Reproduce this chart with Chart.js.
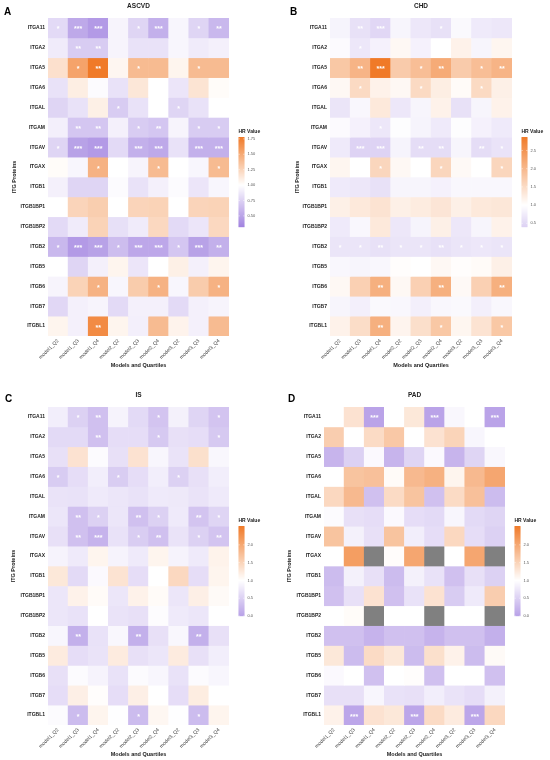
<!DOCTYPE html>
<html>
<head>
<meta charset="utf-8">
<script src="https://cdn.jsdelivr.net/npm/chart.js@4.4.1/dist/chart.umd.min.js"></script>
<style>
  html, body { margin: 0; padding: 0; background: #fff; }
  #wrap { position: relative; width: 550px; height: 760px; overflow: hidden; font-family: "Liberation Sans", Arial, sans-serif; }
  .panel { position: absolute; width: 275px; height: 371px; }
  .tag { position: absolute; font-weight: bold; font-size: 10px; line-height: 1; color: #000; }
</style>
</head>
<body>
<div id="wrap">
  <div class="panel" style="left:0;top:0"><canvas id="chartA"></canvas></div>
  <div class="panel" style="left:275px;top:0"><canvas id="chartB"></canvas></div>
  <div class="panel" style="left:0;top:389px"><canvas id="chartC"></canvas></div>
  <div class="panel" style="left:275px;top:389px"><canvas id="chartD"></canvas></div>
  <div class="tag" style="left:4px;top:7px">A</div>
  <div class="tag" style="left:290px;top:6.5px">B</div>
  <div class="tag" style="left:5px;top:394px">C</div>
  <div class="tag" style="left:288px;top:394px">D</div>
</div>
<script>
const proteins = ["ITGA11","ITGA2","ITGA5","ITGA6","ITGAL","ITGAM","ITGAV","ITGAX","ITGB1","ITGB1BP1","ITGB1BP2","ITGB2","ITGB5","ITGB6","ITGB7","ITGBL1"];
const quartiles = ["model1_Q2","model1_Q3","model1_Q4","model2_Q2","model2_Q3","model2_Q4","model3_Q2","model3_Q3","model3_Q4"];

// HR values, one row per protein (ASCVD)
const hrA = [
  [0.80,0.53,0.45,0.94,0.77,0.57,0.95,0.77,0.61],
  [0.89,0.72,0.72,0.94,0.84,0.84,0.95,0.89,0.92],
  [1.18,1.54,1.78,1.05,1.40,1.40,1.06,1.40,1.40],
  [0.84,1.10,0.98,0.84,1.14,1.00,0.86,1.16,1.02],
  [0.77,0.84,1.09,0.72,0.84,1.00,0.77,0.84,1.00],
  [0.91,0.69,0.69,0.92,0.72,0.69,0.94,0.72,0.72],
  [0.77,0.49,0.45,0.80,0.57,0.53,0.84,0.57,0.57],
  [1.02,0.95,1.45,1.00,0.94,1.40,1.00,0.95,1.40],
  [0.92,0.77,0.77,0.98,0.84,0.92,0.98,0.86,0.95],
  [1.00,1.25,1.29,1.00,1.25,1.26,1.00,1.25,1.26],
  [0.80,0.89,1.26,0.83,0.89,1.23,0.80,0.86,1.23],
  [0.61,0.45,0.49,0.64,0.52,0.52,0.69,0.49,0.57],
  [1.00,0.77,0.92,1.06,0.86,1.00,1.09,0.92,1.06],
  [0.94,1.26,1.45,0.95,1.30,1.45,0.95,1.30,1.45],
  [0.78,0.92,0.94,0.80,0.92,0.92,0.80,0.92,0.94],
  [1.06,0.92,1.68,1.06,0.91,1.40,1.07,0.92,1.40]
];
// CHD
const hrB = [
  [0.85,0.61,0.48,0.87,0.69,0.61,0.92,0.73,0.69],
  [0.94,0.69,0.82,1.10,0.82,1.00,1.18,0.87,1.13],
  [1.78,2.05,2.87,1.73,1.91,2.18,1.73,1.91,2.05],
  [1.10,1.52,1.18,1.10,1.52,1.24,1.06,1.52,1.21],
  [0.66,0.90,1.31,0.69,0.87,1.18,0.61,0.87,1.18],
  [0.94,0.82,0.69,0.97,0.85,0.73,0.97,0.82,0.73],
  [0.73,0.43,0.43,0.85,0.55,0.55,0.87,0.55,0.64],
  [1.13,1.00,1.57,1.10,1.00,1.57,1.08,1.00,1.57],
  [0.73,0.69,0.61,0.87,0.87,0.82,0.90,0.90,0.90],
  [1.21,1.31,1.39,1.21,1.27,1.36,1.21,1.31,1.34],
  [0.73,0.90,1.31,0.69,0.85,1.21,0.69,0.87,1.18],
  [0.66,0.66,0.61,0.66,0.66,0.61,0.66,0.69,0.66],
  [0.90,0.87,0.90,1.03,1.00,1.10,1.03,1.06,1.21],
  [1.10,1.66,2.11,1.10,1.66,2.11,1.08,1.66,2.11],
  [0.87,0.79,0.92,0.90,0.79,0.90,0.92,0.79,0.90],
  [1.18,1.48,2.11,1.15,1.45,1.78,1.13,1.39,1.78]
];
// IS
const hrC = [
  [0.82,0.51,0.33,0.87,0.60,0.37,0.85,0.55,0.37],
  [0.60,0.60,0.33,0.64,0.64,0.42,0.67,0.64,0.42],
  [0.67,1.33,0.96,0.67,1.33,0.90,0.70,1.36,0.91],
  [0.45,0.64,0.82,0.46,0.64,0.82,0.51,0.67,0.82],
  [0.70,0.69,0.78,0.73,0.69,0.78,0.76,0.70,0.78],
  [0.73,0.33,0.51,0.73,0.33,0.51,0.78,0.37,0.55],
  [0.67,0.33,0.19,0.69,0.46,0.33,0.70,0.51,0.37],
  [0.87,0.78,1.12,0.87,0.78,1.12,0.87,0.78,1.14],
  [1.27,0.60,0.94,1.32,0.64,1.00,1.45,0.64,1.12],
  [0.73,1.15,1.05,0.73,1.15,1.05,0.73,1.18,1.06],
  [0.73,0.69,1.00,0.70,0.67,0.97,0.78,0.73,1.00],
  [0.90,0.15,0.69,0.91,0.15,0.67,0.91,0.15,0.67],
  [1.23,0.64,0.70,1.23,0.67,0.73,1.23,0.67,0.82],
  [0.67,0.96,0.87,0.69,0.96,0.90,0.69,0.96,0.90],
  [0.64,1.18,1.02,0.64,1.18,1.00,0.64,1.21,1.00],
  [0.96,0.28,1.12,0.99,0.28,1.09,0.99,0.28,1.12]
];
// PAD (null = not estimable, drawn grey)
const hrD = [
  [1.00,1.33,0.02,1.00,1.27,0.02,0.91,1.00,0.02],
  [1.57,1.00,1.41,1.63,1.00,1.33,1.50,0.90,1.00],
  [0.20,0.51,0.94,0.20,0.55,0.94,0.20,0.55,0.91],
  [1.00,1.68,1.72,1.05,1.80,1.90,1.12,1.80,2.02],
  [1.45,1.80,0.33,1.41,1.68,0.33,1.41,1.72,0.28],
  [0.96,0.67,0.64,0.94,0.64,0.60,0.90,0.60,0.55],
  [1.68,0.85,0.67,1.68,0.82,0.64,1.45,0.64,0.51],
  [1.00,2.12,null,1.03,2.02,null,1.00,2.02,null],
  [0.28,0.85,0.67,0.28,0.85,0.69,0.33,0.67,0.51],
  [0.33,0.67,1.33,0.33,0.69,1.33,0.45,0.78,1.57],
  [1.00,1.04,null,1.00,1.00,null,1.00,1.00,null],
  [0.33,0.33,0.19,0.33,0.33,0.19,0.33,0.33,0.15],
  [1.27,0.28,1.41,1.27,0.28,1.36,1.15,0.28,1.06],
  [0.94,1.00,0.33,1.00,1.02,0.33,1.00,1.00,0.33],
  [0.67,0.67,0.90,0.69,0.67,0.82,0.70,0.64,0.85],
  [1.15,0.05,1.33,1.27,0.05,1.41,1.23,0.05,1.45]
];

// number of significance stars per cell, one string per protein
const sigA = ["133013012","022000000","012010010","000000000","000100100","022012011","133033033","001001001",
              "000000000","000000000","000000000","133133132","000000000","001001001","000000000","002000000"];
const sigB = ["023001000","010000000","023012012","010010010","000000000","001000000","033022021","001001001",
              "000000000","000000000","000000000","112112111","000000000","002002002","000000000","002001001"];
const sigC = ["012001001","002001001","000000000","100100100","000000000","021021021","023012012","000000000",
              "000000000","000000000","000000000","020020020","000000000","000000000","000000000","010010010"];
const sigD = ["003003003","000000000","000000000","000000000","000000000","000000000","000000000","000000000",
              "000000000","000000000","000000000","000000000","000000000","000000000","000000000","030030030"];

// colour bar limits and ticks
const limA = [0.32, 1.78], ticksA = [0.5, 0.75, 1.0, 1.25, 1.5, 1.75];
const limB = [0.40, 2.87], ticksB = [0.5, 1.0, 1.5, 2.0, 2.5];
const limC = [0.00, 2.53], ticksC = [0.0, 0.5, 1.0, 1.5, 2.0];
const limD = [0.00, 2.53], ticksD = [0.0, 0.5, 1.0, 1.5, 2.0];

const PURPLE = [147, 112, 219];
const ORANGE = [240, 122, 40];
const NA_COLOR = "#808080";
const FONT = "'Liberation Sans', Arial, sans-serif";

function colorFor(v, lim) {
  if (v === null) return NA_COLOR;
  const maxD = Math.max(1 - lim[0], lim[1] - 1);
  const t = Math.min(1, Math.abs(v - 1) / maxD);
  const end = v < 1 ? PURPLE : ORANGE;
  const c = end.map(e => Math.round(255 + (e - 255) * t));
  return `rgb(${c[0]},${c[1]},${c[2]})`;
}

function makeHeatmap(p) {
  const extras = {
    id: "extras" + p.id,
    afterDatasetsDraw(chart) {
      const { ctx, scales: { x, y } } = chart;
      ctx.save();
      ctx.fillStyle = "#fff";
      ctx.font = "bold 7px " + FONT;
      ctx.textAlign = "center";
      ctx.textBaseline = "middle";
      p.sig.forEach((row, i) => {
        [...row].forEach((n, j) => {
          if (n === "0") return;
          ctx.fillText("*".repeat(+n), x.getPixelForValue(j), y.getPixelForValue(i + 0.5) + 1.5);
        });
      });
      ctx.restore();
    },
    afterDraw(chart) {
      const { ctx, chartArea } = chart;
      const bx = chartArea.right + 9.5, by = chartArea.top + 119, bw = 6, bh = 90;
      const [lo, hi] = p.lim;
      ctx.save();
      for (let k = 0; k < bh; k++) {
        ctx.fillStyle = colorFor(hi - (k + 0.5) / bh * (hi - lo), p.lim);
        ctx.fillRect(bx, by + k, bw, 1.2);
      }
      ctx.fillStyle = "#222";
      ctx.font = "bold 5px " + FONT;
      ctx.textAlign = "left";
      ctx.textBaseline = "alphabetic";
      ctx.fillText("HR Value", bx, by - 4);
      ctx.font = "4px " + FONT;
      ctx.fillStyle = "#555";
      ctx.textBaseline = "middle";
      ctx.strokeStyle = "#fff";
      ctx.lineWidth = 0.5;
      p.ticks.forEach(t => {
        const ty = by + (hi - t) / (hi - lo) * bh;
        ctx.beginPath();
        ctx.moveTo(bx, ty); ctx.lineTo(bx + 1.3, ty);
        ctx.moveTo(bx + bw - 1.3, ty); ctx.lineTo(bx + bw, ty);
        ctx.stroke();
        ctx.fillText(t.toFixed(p.digits), bx + bw + 3, ty);
      });
      ctx.restore();
    }
  };

  return new Chart(document.getElementById(p.id), {
    type: "bar",
    data: {
      labels: quartiles,
      datasets: proteins.map((name, i) => ({
        label: name,
        data: quartiles.map(() => [i, i + 1]),
        backgroundColor: p.hr[i].map(v => colorFor(v, p.lim)),
        borderWidth: 0,
        barPercentage: 1,
        categoryPercentage: 1,
        grouped: false
      }))
    },
    options: {
      responsive: true,
      maintainAspectRatio: false,
      animation: false,
      layout: { padding: { left: 0, right: p.padRight, top: 0, bottom: 0 } },
      plugins: {
        legend: { display: false },
        tooltip: { enabled: false },
        title: {
          display: true, text: p.title, fullSize: false, color: "#222",
          font: { family: FONT, size: 6.5, weight: "bold" },
          padding: { top: 2.6, bottom: 7.6 }
        }
      },
      scales: {
        x: {
          grid: { display: false, drawTicks: false },
          border: { display: false },
          ticks: { autoSkip: false, maxRotation: 45, minRotation: 45, padding: 2, color: "#444", font: { family: FONT, size: 5 } },
          title: { display: true, text: "Models and Quartiles", color: "#222", font: { family: FONT, size: 5.5, weight: "bold" }, padding: { top: 0, bottom: 2 } },
          afterFit: s => { s.height = 35; }
        },
        y: {
          type: "linear", min: 0, max: 16, reverse: true,
          grid: { display: false, drawTicks: false },
          border: { display: false },
          afterBuildTicks: s => { s.ticks = proteins.map((_, i) => ({ value: i + 0.5 })); },
          ticks: { padding: 3, color: "#222", font: { family: FONT, size: 5, weight: "bold" }, callback: v => proteins[Math.floor(v)] },
          title: { display: true, text: "ITG Proteins", color: "#222", font: { family: FONT, size: 5.5, weight: "bold" }, padding: { top: p.titleX - 3.3, bottom: 0 } },
          afterFit: s => { s.width = p.axisWidth; }
        }
      }
    },
    plugins: [extras]
  });
}

makeHeatmap({ id: "chartA", title: "ASCVD", hr: hrA, sig: sigA, lim: limA, ticks: ticksA, digits: 2, axisWidth: 48, padRight: 46, titleX: 14 });
makeHeatmap({ id: "chartB", title: "CHD",   hr: hrB, sig: sigB, lim: limB, ticks: ticksB, digits: 1, axisWidth: 55, padRight: 38, titleX: 22 });
makeHeatmap({ id: "chartC", title: "IS",    hr: hrC, sig: sigC, lim: limC, ticks: ticksC, digits: 1, axisWidth: 48, padRight: 46, titleX: 13 });
makeHeatmap({ id: "chartD", title: "PAD",   hr: hrD, sig: sigD, lim: limD, ticks: ticksD, digits: 1, axisWidth: 49, padRight: 45, titleX: 14 });
</script>
</body>
</html>
